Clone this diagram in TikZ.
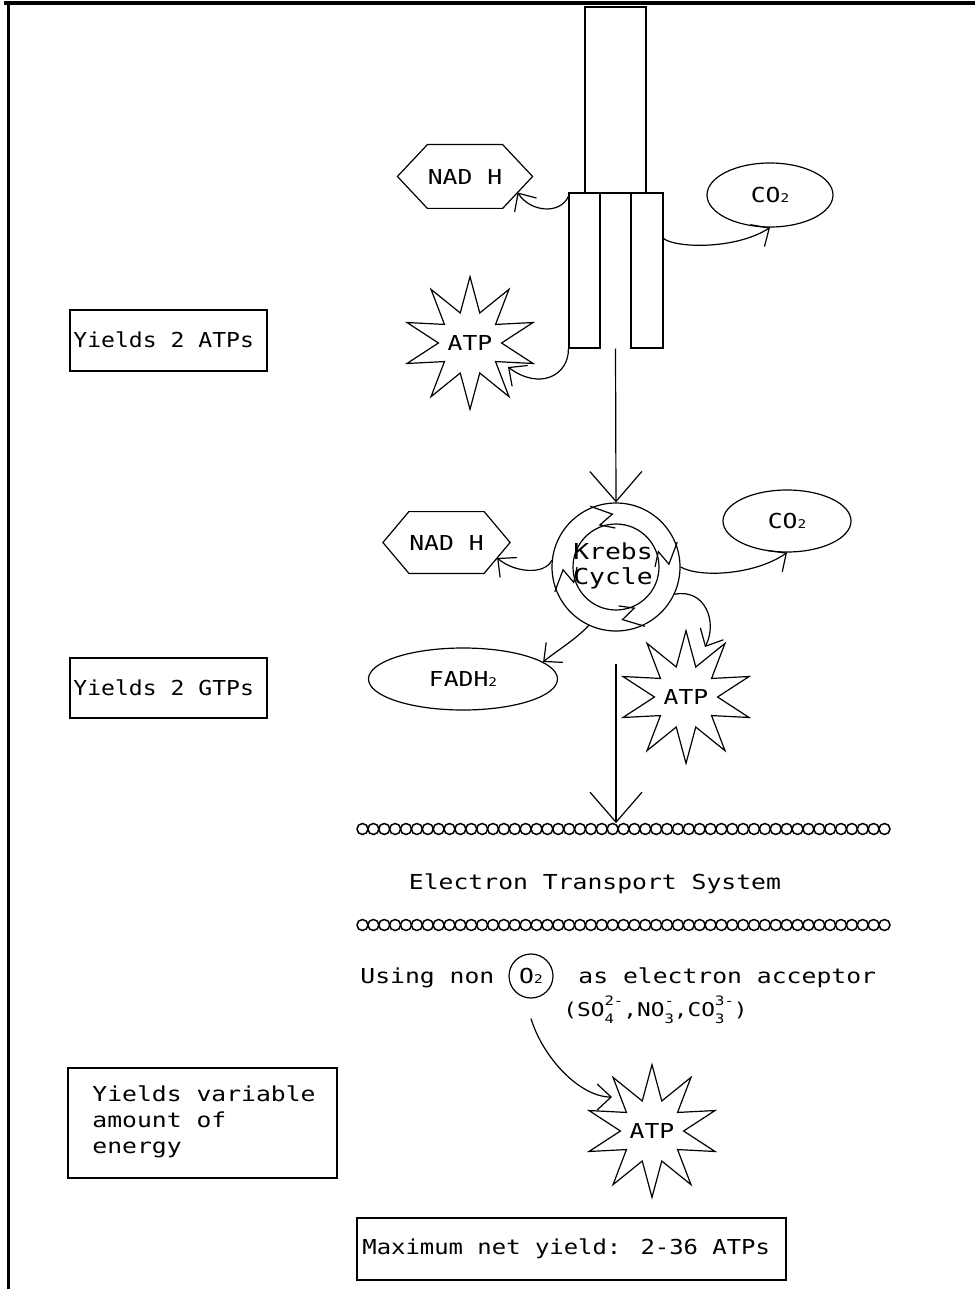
\documentclass[tikz,border=0pt]{standalone}
\usepackage{fontspec}
\usetikzlibrary{arrows.meta,shapes.geometric,calc}
\newfontfamily\reff[FakeStretch=1.2]{DejaVu Sans Mono}
\newfontfamily\reffn[FakeStretch=1.12]{DejaVu Sans Mono}
\newfontfamily\reffm[FakeStretch=1.16]{DejaVu Sans Mono}
\newcommand\mytxt{\reff\fontsize{10.3}{13}\selectfont}
\newcommand\nrtxt{\reffn\fontsize{10.3}{13}\selectfont}
\newcommand\mxtxt{\reffm\fontsize{10.3}{13}\selectfont}
\newcommand\kbtxt{\reff\fontsize{11}{12.5}\selectfont}
\newcommand\smtxt{\reff\fontsize{9.5}{10}\selectfont}
\newcommand\lo[1]{{\fontsize{6}{6}\selectfont #1}}
\newcommand\lohi[2]{\makebox[0pt][l]{\raisebox{-0.7ex}{\fontsize{6.5}{6}\selectfont #1}}\raisebox{1.0ex}{\fontsize{6.5}{6}\selectfont #2}}
\newcommand\hexa[2]{\draw[ln] (#1.north west) -- (#1.north east) -- ([xshift=#2]#1.east) -- (#1.south east) -- (#1.south west) -- ([xshift=-#2]#1.west) -- cycle;}
\tikzset{
  ln/.style={line width=0.6pt},
  arr/.style={ln, -{Straight Barb[length=7pt,width=13pt]}},
  bigarr/.style={ln, -{Straight Barb[length=15pt,width=26pt]}},
  boxed/.style={draw, ln, rectangle, inner sep=0pt},
  oval/.style={draw, ln, ellipse, inner sep=0pt},
  burst/.style={draw, ln, star, star points=10, star point ratio=2.1, inner sep=0pt, minimum size=61pt},
  hexcore/.style={inner sep=0pt},
  ring/.style={draw, ln, circle, inner sep=0pt},
  boxtext/.style={anchor=west, inner sep=0pt, font=\nrtxt}
}
\begin{document}
\begin{tikzpicture}[x=0.5pt,y=-0.5pt, every node/.style={font=\mytxt}]
\useasboundingbox (0,0) rectangle (975,1289);
\fill[white] (0,0) rectangle (975,1289);
% frame
\draw[line width=2pt] (4,3) -- (975,3);
\draw[line width=1.5pt] (8,3) -- (8,1289);

% glycolysis column
\node[boxed, minimum width=30.5pt, minimum height=93pt] (tall) at (615.5,100) {};
\node[boxed, minimum width=15.5pt, minimum height=77.5pt] (lrect) at (584.5,270.5) {};
\node[boxed, minimum width=16pt, minimum height=77.5pt] (rrect) at (647,270.5) {};

\node[hexcore, minimum width=32pt, minimum height=31.5pt] (nad1) at (465,176.5) {NAD H};
\hexa{nad1}{15pt}
\node[oval, minimum width=63pt, minimum height=32pt] (co2a) at (770,195) {CO\lo{2}};
\node[burst] (atp1) at (470,343) {ATP};
\node[boxed, minimum width=98.5pt, minimum height=30.5pt] (y1) at (168.5,340.5) {};
\node[boxtext] (y1txt) at (73,340) {Yields 2 ATPs};

\draw[arr] ([yshift=-2pt]lrect.north west) .. controls (560,215) and (530,212) .. ($(nad1.south east)!0.5!([xshift=15pt]nad1.east)$);
\draw[arr] ([yshift=16pt]rrect.east) .. controls (675,248) and (735,250) .. (co2a.south);
\draw[arr] (lrect.south west) .. controls (569,375) and (540,391) .. ([shift={(19pt,-12pt)}]atp1.center);

% Krebs cycle
\node[ring, minimum size=64pt] (krebsout) at (616,567) {};
\node[ring, minimum size=43pt] (krebsin) at (616,567) {};
\node[font=\kbtxt, align=center, inner sep=0pt] (krebs) at (613,566) {Krebs\\Cycle};
\begin{scope}[shift={(krebsout.center)}]
  \foreach \t in {113,22,202,296}
    \draw[ln] (\t:33pt) -- ({\t-19}:26.5pt) -- ({\t-2}:22.5pt) -- ({\t-22}:19.5pt);
\end{scope}
\draw[bigarr] (tall.south |- lrect.south) -- (krebsout.north);

\node[hexcore, minimum width=33.5pt, minimum height=30.5pt] (nad2) at (446.5,542.5) {NAD H};
\hexa{nad2}{13pt}
\node[oval, minimum width=64pt, minimum height=31pt] (co2b) at (787,521) {CO\lo{2}};
\node[oval, minimum width=94.5pt, minimum height=31pt] (fadh) at (463,679) {FADH\lo{2}};
\node[burst, minimum size=62pt] (atp2) at (686,697) {ATP};
\node[boxed, minimum width=98.5pt, minimum height=30pt] (y2) at (168.5,688) {};
\node[boxtext] (y2txt) at (73,688) {Yields 2 GTPs};

\draw[arr] (krebsout.174) .. controls (545,575) and (515,573) .. ($(nad2.south east)!0.5!([xshift=13pt]nad2.east)$);
\draw[arr] (krebsout.east) .. controls (700,578) and (755,575) .. (co2b.south);
\draw[arr] (krebsout.-25) .. controls (705,588) and (718,622) .. ([shift={(9.5pt,25pt)}]atp2.center);
\draw[arr] (krebsout.245) .. controls (575,640) and (555,652) .. (fadh.12);

% electron transport system
\node[inner sep=0pt, minimum width=266.5pt, minimum height=5.5pt] (chain1) at (623.5,829) {};
\node[inner sep=0pt, minimum width=266.5pt, minimum height=5.5pt] (chain2) at (623.5,925) {};
\foreach \i in {0,...,48} {
  \draw[line width=0.75pt] (362.5+10.875*\i,829) circle[radius=2.75pt];
  \draw[line width=0.75pt] (362.5+10.875*\i,925) circle[radius=2.75pt];
}
\draw[bigarr] ([yshift=-16pt]krebsout.south) -- (krebsout.south |- chain1.north);
\node (ets) at (595,884) {Electron Transport System};

\node[anchor=base west, inner sep=0pt] (using) at (360,983) {Using non};
\node[ring, minimum size=22pt] (o2) at (531,976) {O\lo{2}};
\node[anchor=base west, inner sep=0pt] (acc) at (578,983) {as electron acceptor};
\node[font=\smtxt, anchor=base west, inner sep=0pt] (ions) at (563,1016) {(SO\lohi{4}{2-},NO\lohi{3}{-},CO\lohi{3}{3-})};

\node[burst] (atp3) at (652,1131) {ATP};
\draw[arr] ([yshift=-10pt]o2.south) .. controls (543,1058) and (580,1097) .. ([shift={(-20pt,17pt)}]atp3.center);

\node[boxed, minimum width=134.5pt, minimum height=55pt] (yvar) at (202.5,1123) {};
\node[boxtext, align=left, font=\mytxt] (yvartxt) at (92,1122) {Yields variable\\amount of\\energy};
\node[boxed, minimum width=214.5pt, minimum height=31pt] (maxy) at (571.5,1249) {};
\node[boxtext, font=\mxtxt] (maxytxt) at (362,1249) {Maximum net yield: 2-36 ATPs};
\end{tikzpicture}
\end{document}
